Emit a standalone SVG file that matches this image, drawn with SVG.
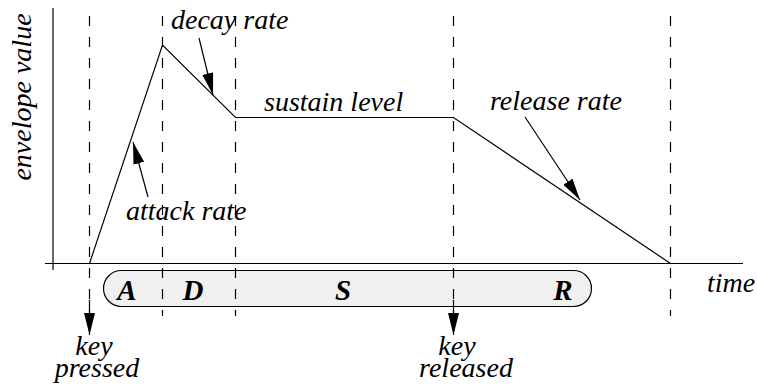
<svg xmlns="http://www.w3.org/2000/svg" width="757" height="385" viewBox="0 0 757 385">
<style>
.t{font-family:"Liberation Serif","Times New Roman",serif;font-style:italic;font-size:28px;fill:#000}
.b{font-family:"Liberation Serif","Times New Roman",serif;font-style:italic;font-weight:bold;font-size:29px;fill:#000}
.ax{stroke:#000;stroke-width:1.2;fill:none}
.d{stroke:#000;stroke-width:1.2;stroke-dasharray:10 11;fill:none}
.a{stroke:#000;stroke-width:1.2;fill:none;marker-end:url(#ah)}
</style>
<defs>
<marker id="ah" markerUnits="userSpaceOnUse" markerWidth="22" markerHeight="12" refX="22" refY="5.5" orient="auto">
<path d="M0,0 L22,5.5 L0,11 z" fill="#000"/>
</marker>
</defs>
<rect width="757" height="385" fill="#fff"/>
<g id="phases">
<rect x="103.5" y="270.5" width="488" height="36" rx="18" ry="18" fill="#f0f0f0" stroke="#000" stroke-width="1.2"/>
<text class="b" x="127" y="300" text-anchor="middle">A</text>
<text class="b" x="193" y="300" text-anchor="middle">D</text>
<text class="b" x="343" y="300" text-anchor="middle">S</text>
<text class="b" x="563" y="300" text-anchor="middle">R</text>
</g>
<g id="axes">
<line class="ax" x1="53" y1="8" x2="53" y2="270"/>
<line class="ax" x1="45" y1="263.5" x2="743" y2="263.5"/>
<text class="t" x="0" y="0" text-anchor="middle" transform="translate(31,97) rotate(-90)">envelope value</text>
<text class="t" x="731" y="292" text-anchor="middle">time</text>
</g>
<g id="connectors">
<line class="d" x1="89.5" y1="16" x2="89.5" y2="316"/>
<line class="d" x1="162.5" y1="16" x2="162.5" y2="316"/>
<line class="d" x1="235.5" y1="16" x2="235.5" y2="316"/>
<line class="d" x1="453.5" y1="16" x2="453.5" y2="316"/>
<line class="d" x1="670.5" y1="16" x2="670.5" y2="316"/>
<path class="a" d="M89.5,300 L89.5,335"/>
<path class="a" d="M453.5,300 L453.5,335"/>
<path class="a" d="M148,197 L133,142"/>
<path class="a" d="M199,38 L213,95"/>
<path class="a" d="M525,117 L580,200"/>
</g>
<g id="envelope">
<polyline class="ax" points="89.5,263.5 162.5,45 235.5,117.5 453.5,117.5 670.5,263.5"/>
</g>
<g id="labels">
<text class="t" x="171" y="29">decay rate</text>
<text class="t" x="264" y="111">sustain level</text>
<text class="t" x="490" y="110">release rate</text>
<text class="t" x="126" y="220">attack rate</text>
<text class="t" x="94" y="355" text-anchor="middle">key</text>
<text class="t" x="97" y="377" text-anchor="middle">pressed</text>
<text class="t" x="457" y="355" text-anchor="middle">key</text>
<text class="t" x="466" y="377" text-anchor="middle">released</text>
</g>
</svg>
